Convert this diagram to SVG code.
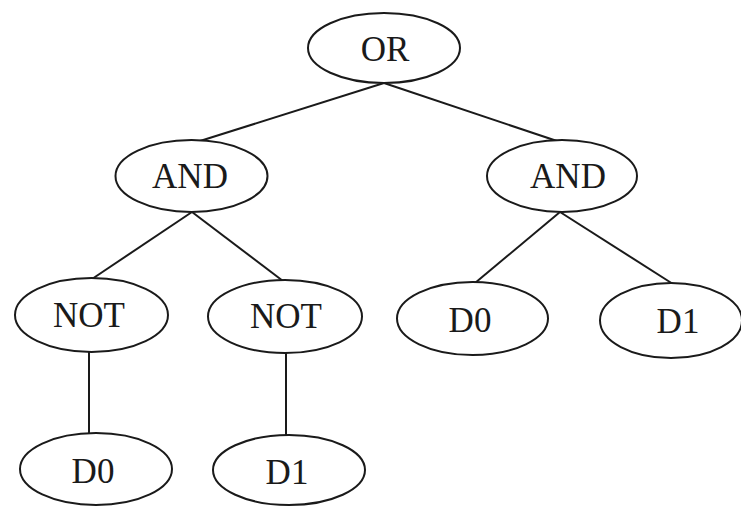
<svg xmlns="http://www.w3.org/2000/svg" width="741" height="506" viewBox="0 0 741 506">
<style>
.n ellipse{fill:#fff;stroke:#1a1a1a;stroke-width:2}
.n text{font-family:"Liberation Serif","Times New Roman",serif;font-size:35px;fill:#1a1a1a;text-anchor:middle}
#edges line{stroke:#1a1a1a;stroke-width:2}
</style>
<rect width="741" height="506" fill="#fff"/>
<g id="edges">
<line x1="384" y1="83" x2="200" y2="141"/>
<line x1="384" y1="83" x2="557" y2="141"/>
<line x1="192" y1="212" x2="92" y2="279"/>
<line x1="192" y1="212" x2="283" y2="281"/>
<line x1="560" y1="212" x2="475" y2="283"/>
<line x1="560" y1="212" x2="673" y2="284"/>
<line x1="89" y1="352" x2="89" y2="433"/>
<line x1="286" y1="353" x2="286" y2="435"/>
</g>
<g id="or" class="n"><ellipse cx="384" cy="48" rx="76" ry="35"/><text x="385" y="61">OR</text></g>
<g id="and1" class="n"><ellipse cx="191.5" cy="176" rx="76" ry="36"/><text x="190" y="188">AND</text></g>
<g id="and2" class="n"><ellipse cx="562" cy="176" rx="75" ry="36"/><text x="568" y="188">AND</text></g>
<g id="not1" class="n"><ellipse cx="91.5" cy="315" rx="76.5" ry="37"/><text x="89" y="327">NOT</text></g>
<g id="not2" class="n"><ellipse cx="285" cy="316.5" rx="77" ry="36.5"/><text x="286" y="328">NOT</text></g>
<g id="d0a" class="n"><ellipse cx="472.5" cy="318.5" rx="75.5" ry="36.5"/><text x="470" y="332">D0</text></g>
<g id="d1a" class="n"><ellipse cx="671" cy="320.5" rx="71" ry="37.5"/><text x="678" y="333">D1</text></g>
<g id="d0b" class="n"><ellipse cx="96" cy="469" rx="76" ry="36"/><text x="93" y="483">D0</text></g>
<g id="d1b" class="n"><ellipse cx="289" cy="470" rx="76" ry="35"/><text x="287" y="484">D1</text></g>
</svg>
